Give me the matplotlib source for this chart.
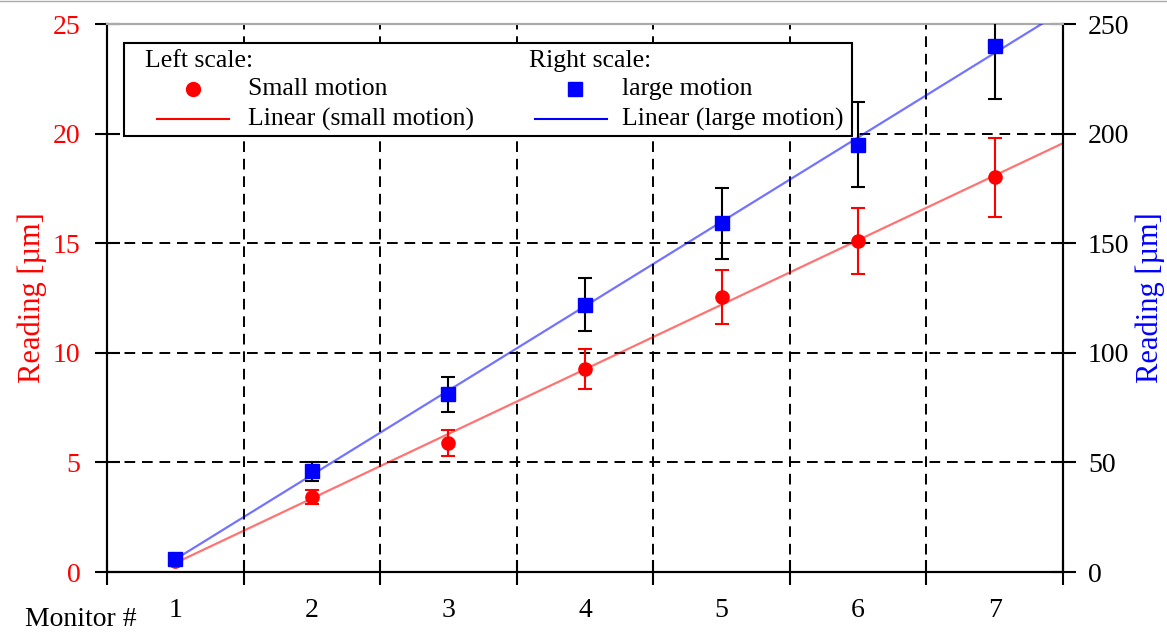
import numpy as np
import matplotlib.pyplot as plt
from matplotlib.lines import Line2D
from matplotlib.patches import Rectangle

plt.rcParams['font.family'] = ['Liberation Serif', 'DejaVu Serif']

monitors = [1, 2, 3, 4, 5, 6, 7]
small_motion = [0.5, 3.42, 5.9, 9.27, 12.55, 15.1, 18.0]
small_err = [0.05, 0.3, 0.6, 0.9, 1.23, 1.5, 1.8]
large_motion = [6, 46, 81, 122, 159, 195, 240]
large_err = [0.6, 4.3, 8, 12, 16, 19.5, 24]

# linear trend lines, fitted to the data
small_fit = np.polyfit(monitors, small_motion, 1)
large_fit = np.polyfit(monitors, large_motion, 1)
fit_x = np.array([1, 7.5])

fig = plt.figure(figsize=(11.67, 6.35), dpi=100)
fig.subplots_adjust(left=107/1167, right=1063/1167, bottom=1-572/635, top=1-24/635)
ax = fig.add_subplot(111)
ax2 = ax.twinx()

# left scale
ax.plot(fit_x, np.polyval(small_fit, fit_x), color='red', alpha=0.55, lw=1.6, zorder=3)
ax.errorbar(monitors, small_motion, yerr=small_err, fmt='o', color='red', ms=9.5,
            ecolor='red', elinewidth=1.5, capsize=5, capthick=1.5, zorder=4)

# right scale
ax2.plot(fit_x, np.polyval(large_fit, fit_x), color='blue', alpha=0.55, lw=1.6, zorder=3)
ax2.errorbar(monitors, large_motion, yerr=large_err, fmt='s', color='blue', ms=10,
             ecolor='black', elinewidth=1.5, capsize=5, capthick=1.5, zorder=4)

ax.set_xlim(0.5, 7.5)
ax.set_ylim(0, 25)
ax2.set_ylim(0, 250)

ax.set_xticks(np.arange(0.5, 8, 1))
ax.set_xticks(monitors, minor=True)
ax.set_xticklabels(monitors, minor=True)
ax.tick_params(axis='x', which='major', direction='inout', length=18, width=1.5, labelbottom=False)
ax.tick_params(axis='x', which='minor', length=0, pad=19, labelsize=20)

ax.set_yticks(range(0, 26, 5))
ax.tick_params(axis='y', direction='inout', length=18, width=1.5, labelcolor='red', labelsize=20, pad=10)
ax2.set_yticks(range(0, 251, 50))
ax2.tick_params(axis='y', direction='inout', length=18, width=1.5, labelsize=20, pad=9)

ax.grid(True, which='major', color='black', linestyle=(0, (5.5, 3.5)), lw=1.4)

ax.set_ylabel('Reading [µm]', color='red', fontsize=22, labelpad=4)
ax2.set_ylabel('Reading [µm]', color='blue', fontsize=22, labelpad=4)

for a in (ax, ax2):
    for s in a.spines.values():
        s.set_linewidth(1.5)
    a.spines['top'].set_color('#aaaaaa')

fig.text(25/1167, 1-620/635, 'Monitor #', ha='left', va='center', fontsize=20)
fig.add_artist(Line2D([0, 1], [0.998, 0.998], color='#aaaaaa', lw=1))


# legend box, laid out by hand in ax2 axes coordinates
def ac(px, py):
    return (px - 107) / 956, (572 - py) / 548


x0, y0 = ac(124, 136)
x1, y1 = ac(852, 43)
ax2.add_patch(Rectangle((x0, y0), x1 - x0, y1 - y0, transform=ax2.transAxes,
                        facecolor='white', edgecolor='black', lw=1.5, zorder=10, clip_on=False))

columns = [
    ('Left scale:', 145, 193, 'o', 'red', 'Small motion', 'Linear (small motion)', 157, 229, 248),
    ('Right scale:', 529, 575, 's', 'blue', 'large motion', 'Linear (large motion)', 535, 607, 622),
]
for head, hx, mx, mk, col, lab1, lab2, lx0, lx1, tx in columns:
    ax2.text(*ac(hx, 61), head, transform=ax2.transAxes, ha='left', va='center', fontsize=18.5, zorder=11)
    ax2.plot(*[[v] for v in ac(mx, 89)], marker=mk, color=col, ms=10, ls='none',
             transform=ax2.transAxes, clip_on=False, zorder=11)
    ax2.text(*ac(tx, 89), lab1, transform=ax2.transAxes, ha='left', va='center', fontsize=18.5, zorder=11)
    ax2.plot([ac(lx0, 119)[0], ac(lx1, 119)[0]], [ac(lx0, 119)[1]] * 2, color=col, lw=1.5,
             transform=ax2.transAxes, clip_on=False, zorder=11)
    ax2.text(*ac(tx, 119), lab2, transform=ax2.transAxes, ha='left', va='center', fontsize=18.5, zorder=11)

fig.savefig('out.png', dpi=100)
